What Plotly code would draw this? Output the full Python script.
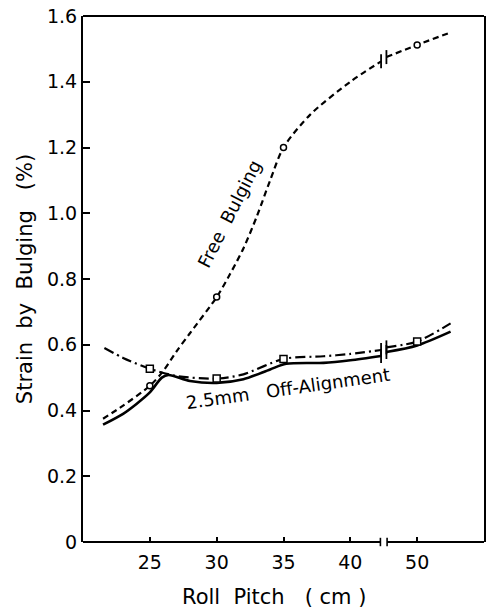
import plotly.graph_objects as go

# ---- data (actual roll pitch in cm; axis is broken between 42.5 and 47.5) ----
BREAK_AT = 42.5
BREAK_SHIFT = 5.0

def ax(x):
    return x if x <= BREAK_AT else x - BREAK_SHIFT

# Free bulging (dashed curve) before / after break
free_x1 = [21.5, 23, 25, 26, 27, 28, 30, 31, 32, 33, 34, 35, 37, 40, 42.3]
free_y1 = [0.375, 0.415, 0.475, 0.52, 0.58, 0.635, 0.745, 0.815, 0.893, 0.99, 1.10, 1.20, 1.30, 1.40, 1.462]
free_x2 = [47.7, 50, 52.5]
free_y2 = [1.475, 1.512, 1.55]
free_mx = [25, 30, 35, 50]
free_my = [0.475, 0.745, 1.20, 1.512]

# 2.5mm off-alignment, dash-dot line
dd_x1 = [21.6, 23, 25, 27, 30, 32, 35, 38, 40, 42.3]
dd_y1 = [0.59, 0.56, 0.527, 0.505, 0.497, 0.51, 0.557, 0.565, 0.572, 0.584]
dd_x2 = [47.7, 50, 52.5]
dd_y2 = [0.592, 0.61, 0.665]
dd_mx = [25, 30, 35, 50]
dd_my = [0.527, 0.497, 0.557, 0.61]

# 2.5mm off-alignment, solid line
s_x1 = [21.5, 23, 24, 25, 25.9, 26.4, 28, 30, 32, 34, 35.2, 38, 40, 42.3]
s_y1 = [0.357, 0.39, 0.42, 0.455, 0.50, 0.508, 0.49, 0.484, 0.495, 0.525, 0.542, 0.545, 0.553, 0.566]
s_x2 = [47.7, 50, 52.5]
s_y2 = [0.578, 0.598, 0.64]

x_tick_vals = [25, 30, 35, 40, 50]
x_tick_text = ["25", "30", "35", "40", "50"]
y_tick_vals = [0, 0.2, 0.4, 0.6, 0.8, 1.0, 1.2, 1.4, 1.6]
y_tick_text = ["0", "0.2", "0.4", "0.6", "0.8", "1.0", "1.2", "1.4", "1.6"]

FONT = "DejaVu Sans"
W = 2.2
NB = "\u00a0"

fig = go.Figure()

def seg(xs, ys, dash, width=W):
    fig.add_trace(go.Scatter(
        x=[ax(v) for v in xs], y=ys, mode="lines",
        line=dict(color="black", width=width, dash=dash, shape="spline", smoothing=0.8),
        hoverinfo="skip", showlegend=False))

# solid
seg(s_x1, s_y1, "solid", 2.6)
seg(s_x2, s_y2, "solid", 2.6)
# dash-dot
seg(dd_x1, dd_y1, "10px,4px,2px,4px")
seg(dd_x2, dd_y2, "10px,4px,2px,4px")
# free bulging
seg(free_x1, free_y1, "6px,4px")
seg(free_x2, free_y2, "6px,4px")

# markers
fig.add_trace(go.Scatter(x=[ax(v) for v in free_mx], y=free_my, mode="markers",
                         marker=dict(symbol="circle", size=6, color="white",
                                     line=dict(color="black", width=1.5)),
                         hoverinfo="skip", showlegend=False))
fig.add_trace(go.Scatter(x=[ax(v) for v in dd_mx], y=dd_my, mode="markers",
                         marker=dict(symbol="square", size=7, color="white",
                                     line=dict(color="black", width=1.5)),
                         hoverinfo="skip", showlegend=False))

# break marks on curves (ends of segments)
bx = [ax(free_x1[-1]), ax(free_x2[0]), ax(dd_x1[-1]), ax(dd_x2[0]), ax(s_x1[-1]), ax(s_x2[0])]
by = [free_y1[-1], free_y2[0], dd_y1[-1], dd_y2[0], s_y1[-1], s_y2[0]]
fig.add_trace(go.Scatter(x=bx, y=by, mode="markers",
                         marker=dict(symbol="line-ns-open", size=10, color="black",
                                     line=dict(color="black", width=1.8)),
                         hoverinfo="skip", showlegend=False))

# frame
shapes = [
    dict(type="line", xref="paper", yref="paper", x0=0, x1=1, y0=1, y1=1,
         line=dict(color="black", width=W)),
    dict(type="line", xref="x", yref="paper", x0=20, x1=BREAK_AT - 0.25, y0=0, y1=0,
         line=dict(color="black", width=W)),
    dict(type="line", xref="x", yref="paper", x0=BREAK_AT + 0.25, x1=50, y0=0, y1=0,
         line=dict(color="black", width=W)),
    dict(type="line", xref="x", yref="paper", x0=BREAK_AT - 0.25, x1=BREAK_AT - 0.25,
         y0=-0.008, y1=0.008, line=dict(color="black", width=1.6)),
    dict(type="line", xref="x", yref="paper", x0=BREAK_AT + 0.25, x1=BREAK_AT + 0.25,
         y0=-0.008, y1=0.008, line=dict(color="black", width=1.6)),
]

L, R, T, B = 83, 5, 16, 70
PW, PH = 491 - L - R, 612 - T - B

annotations = [
    dict(text="Free" + NB * 2 + "Bulging", x=30.95, y=1.0, xref="x", yref="y", showarrow=False,
         textangle=-63, font=dict(family=FONT, size=18, color="black")),
    dict(text="2.5mm" + NB * 3 + "Off-Alignment", x=35.3, y=0.468, xref="x", yref="y",
         showarrow=False, textangle=-8, font=dict(family=FONT, size=18, color="black")),
    dict(text="Roll" + NB * 2 + "Pitch" + NB * 3 + "(" + NB + "cm" + NB + ")",
         x=(275 - L) / PW, y=(612 - B - 597) / PH, xref="paper", yref="paper",
         xanchor="center", yanchor="middle",
         showarrow=False, font=dict(family=FONT, size=21, color="black")),
]

fig.update_layout(
    width=491, height=612,
    margin=dict(l=L, r=R, t=T, b=B),
    paper_bgcolor="white", plot_bgcolor="white",
    font=dict(family=FONT, size=19, color="black"),
    shapes=shapes, annotations=annotations,
    xaxis=dict(range=[20, 50], tickvals=[ax(v) for v in x_tick_vals], ticktext=x_tick_text,
               ticks="inside", ticklen=5, tickwidth=1.5, tickcolor="black",
               showline=False, showgrid=False, zeroline=False,
               tickfont=dict(family=FONT, size=19), ticklabelstandoff=7),
    yaxis=dict(range=[0, 1.6], tickvals=y_tick_vals, ticktext=y_tick_text,
               ticks="inside", ticklen=7, tickwidth=1.5, tickcolor="black",
               showline=True, mirror=True, linecolor="black", linewidth=W,
               showgrid=False, zeroline=False,
               tickfont=dict(family=FONT, size=19), ticklabelstandoff=0,
               title=dict(text="Strain" + NB * 2 + "by" + NB * 2 + "Bulging" + NB * 3 + "(%)",
                          font=dict(family=FONT, size=21), standoff=9)),
)

fig.write_html("out.html")
